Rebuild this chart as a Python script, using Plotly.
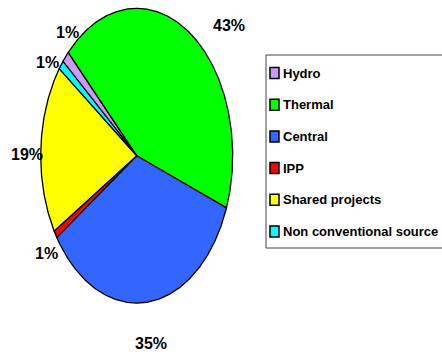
import math
import plotly.graph_objects as go

# ---- data ----
categories = ["Hydro", "Thermal", "Central", "IPP", "Shared projects", "Non conventional source"]
values = [1.3, 43.4, 34.9, 0.8, 18.6, 1.0]

# ---- styles / layout ----
colors = ["#CC99FF", "#00FF00", "#3366FF", "#FF0000", "#FFFF00", "#00FFFF"]
W, H = 442, 352
CX, CY, RX, RY = 136.7, 155.7, 96.0, 147.4     # pixel centre & radii of the (stretched) pie
START_DEG = 309.8                                # clockwise from 12 o'clock
FONT = "Liberation Sans, Arial, sans-serif"
label_px = [(67, 32), (228.5, 25), (151, 343), (46, 253), (27, 154), (47, 62)]
LEG_LEFT, LEG_TOP, LEG_BOTTOM = 266, 55, 248
LEG_ROW0, LEG_STEP = 73, 31.7

fig = go.Figure()

total = sum(values)
ang = START_DEG
for name, v, c in zip(categories, values, colors):
    span = 360.0 * v / total
    n = max(4, int(span * 2))
    xs, ys = [0.0], [0.0]
    for i in range(n + 1):
        t = math.radians(ang + span * i / n)
        xs.append(math.sin(t))
        ys.append(math.cos(t))
    xs.append(0.0)
    ys.append(0.0)
    fig.add_trace(go.Scatter(
        x=xs, y=ys, mode="lines", fill="toself", fillcolor=c,
        line=dict(color="black", width=1.3), name=name, showlegend=False,
        hoverinfo="name",
    ))
    ang += span

def px(x):
    return x / W

def py(y):
    return 1 - y / H

annotations = []
shapes = []
for v, (lx, ly) in zip(values, label_px):
    annotations.append(dict(
        x=px(lx), y=py(ly), xref="paper", yref="paper", showarrow=False,
        text=f"<b>{round(v)}%</b>", font=dict(family=FONT, size=16, color="black"),
        xanchor="center", yanchor="middle",
    ))

# legend (box, swatches, text)
shapes.append(dict(type="rect", xref="paper", yref="paper",
                   x0=px(LEG_LEFT), x1=px(W + 20), y0=py(LEG_BOTTOM), y1=py(LEG_TOP),
                   line=dict(color="#444444", width=1), fillcolor="rgba(0,0,0,0)"))
for i, (name, c) in enumerate(zip(categories, colors)):
    yc = LEG_ROW0 + i * LEG_STEP
    shapes.append(dict(type="rect", xref="paper", yref="paper",
                       x0=px(270), x1=px(279), y0=py(yc + 5.5), y1=py(yc - 5.5),
                       line=dict(color="black", width=1.5), fillcolor=c))
    annotations.append(dict(
        x=px(281), y=py(yc), xref="paper", yref="paper", showarrow=False,
        text=f"<b>{name}</b>", font=dict(family=FONT, size=13, color="black"),
        xanchor="left", yanchor="middle",
    ))

fig.update_layout(
    width=W, height=H,
    margin=dict(l=0, r=0, t=0, b=0),
    paper_bgcolor="white", plot_bgcolor="white",
    showlegend=False,
    xaxis=dict(range=[-CX / RX, (W - CX) / RX], visible=False, domain=[0, 1], fixedrange=True),
    yaxis=dict(range=[(CY - H) / RY, CY / RY], visible=False, domain=[0, 1], fixedrange=True),
    annotations=annotations,
    shapes=shapes,
)

fig.write_html("out.html")
